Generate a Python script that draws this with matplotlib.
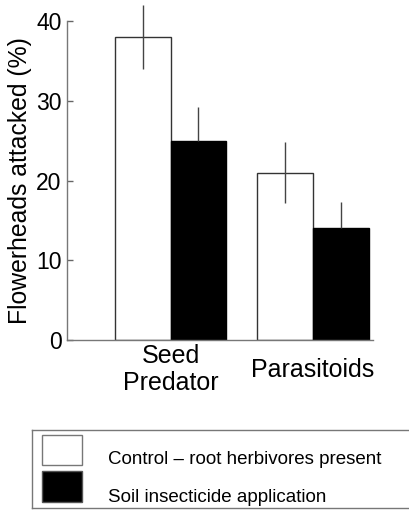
import matplotlib.pyplot as plt
from matplotlib.lines import Line2D
from matplotlib.patches import Rectangle

plt.rcParams['font.family'] = ['Liberation Sans', 'DejaVu Sans']

# Flowerhead attack by guild, control vs soil insecticide
groups = ["Seed\nPredator", "Parasitoids"]
control_mean = [38, 21]
control_err = [4.0, 3.8]
insecticide_mean = [25, 14]
insecticide_err = [4.2, 3.3]
legend_labels = ["Control \u2013 root herbivores present", "Soil insecticide application"]

fig = plt.figure(figsize=(4.10, 5.12), dpi=100)
ax = fig.add_axes([0.1634, 0.3359, 0.746, 0.623])

width = 0.39
pos = range(len(groups))
xc = [p - width / 2 for p in pos]
xi = [p + width / 2 for p in pos]
ax.bar(xc, control_mean, width, color="white", edgecolor="#333333", linewidth=1.0)
ax.bar(xi, insecticide_mean, width, color="black", edgecolor="black", linewidth=1.0)
ax.errorbar(xc, control_mean, yerr=control_err, fmt="none", ecolor="#444444",
            elinewidth=1.0, capsize=0, clip_on=False)
ax.errorbar(xi, insecticide_mean, yerr=[[0, 0], insecticide_err], fmt="none",
            ecolor="#444444", elinewidth=1.0, capsize=0, clip_on=False)

ax.set_xlim(-0.727, 1.42)
ax.set_ylim(0, 40)
ax.set_yticks([0, 10, 20, 30, 40])
ax.tick_params(axis="y", direction="in", length=4, width=1, color="#666666",
               labelsize=16.5, pad=4)
ax.set_xticks([])
for side in ("top", "right"):
    ax.spines[side].set_visible(False)
for side in ("left", "bottom"):
    ax.spines[side].set_color("#777777")
    ax.spines[side].set_linewidth(1.0)

ax.set_ylabel("Flowerheads attacked (%)", fontsize=17.8, labelpad=3)
for p, g in zip(pos, groups):
    ax.text(p, -3.7, g, ha="center", va="center", fontsize=18, linespacing=1.2,
            transform=ax.transData)

# legend frame drawn in figure pixels: three separate edges, open on the right
W, H = 410, 512
def fx(x):
    return x / W
def fy(y):
    return 1 - y / H

frame = dict(transform=fig.transFigure, color="#777777", linewidth=1.0)
fig.add_artist(Line2D([fx(32), fx(W + 5)], [fy(430), fy(430)], **frame))
fig.add_artist(Line2D([fx(32), fx(W + 5)], [fy(508), fy(508)], **frame))
fig.add_artist(Line2D([fx(32), fx(32)], [fy(430), fy(508)], **frame))
fig.patches.append(Rectangle((fx(42), fy(465)), fx(40), 30 / H,
                             transform=fig.transFigure, facecolor="white",
                             edgecolor="#777777", linewidth=1.0))
fig.patches.append(Rectangle((fx(42), fy(502)), fx(40), 31 / H,
                             transform=fig.transFigure, facecolor="black",
                             edgecolor="#555555", linewidth=1.0))
fig.text(fx(108), fy(460), legend_labels[0], fontsize=13.5, va="center", ha="left")
fig.text(fx(108), fy(498), legend_labels[1], fontsize=13.5, va="center", ha="left")

fig.savefig("out.png", dpi=100)
